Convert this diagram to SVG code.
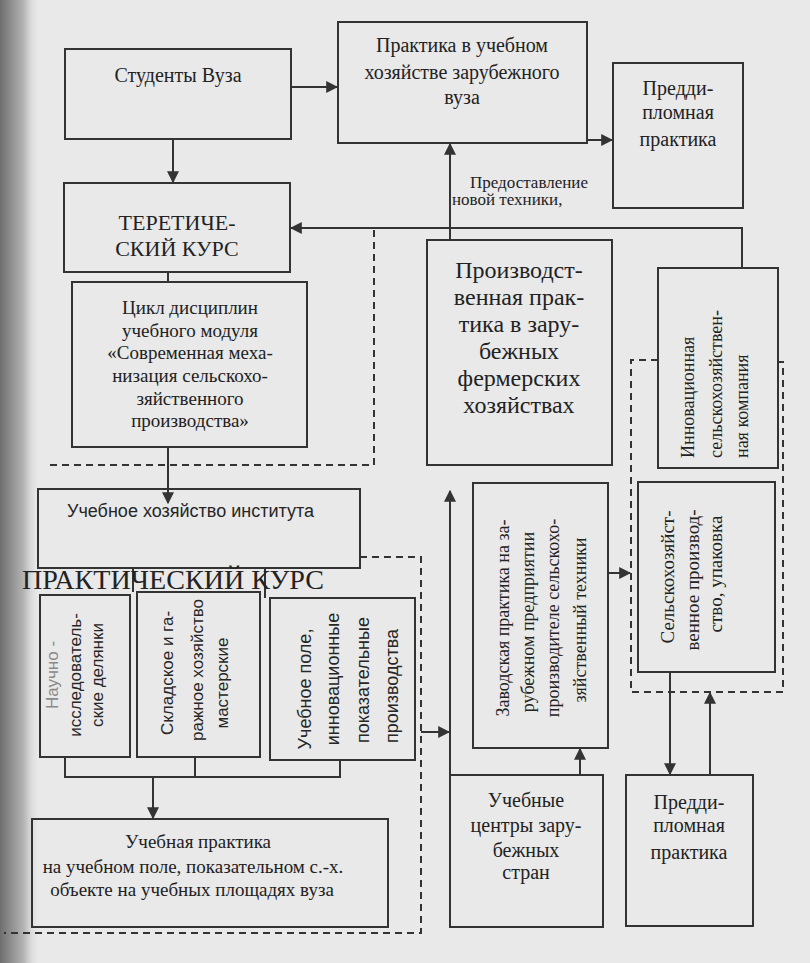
<svg xmlns="http://www.w3.org/2000/svg" width="810" height="963" viewBox="0 0 810 963">
<defs>
<linearGradient id="gutter" x1="0" y1="0" x2="1" y2="0">
<stop offset="0" stop-color="#6e6e6e"/>
<stop offset="0.6" stop-color="#b5b5b5"/>
<stop offset="1" stop-color="#e9e9e9" stop-opacity="0"/>
</linearGradient>
<marker id="arr" viewBox="0 0 10 10" refX="9" refY="5" markerWidth="12" markerHeight="12" markerUnits="userSpaceOnUse" orient="auto">
<path d="M0,0 L10,5 L0,10 z" fill="#333"/>
</marker>
</defs>
<style>
.box{fill:none;stroke:#333;stroke-width:2}
.ln{fill:none;stroke:#333;stroke-width:2}
.dash{fill:none;stroke:#333;stroke-width:2;stroke-dasharray:7 5}
.s{font-family:'Liberation Serif','DejaVu Serif','Noto Serif',Tinos,serif;fill:#222;text-anchor:middle}
.ss{font-family:'Liberation Sans',Arial,sans-serif;fill:#262626;text-anchor:middle}
.st{text-anchor:start}
</style>
<rect width="810" height="963" fill="#e9e9e9"/>
<rect width="40" height="963" fill="url(#gutter)"/>

<g id="connectors">
<line class="ln" x1="291" y1="87" x2="337" y2="87" marker-end="url(#arr)"/>
<line class="ln" x1="587" y1="140" x2="612" y2="140" marker-end="url(#arr)"/>
<line class="ln" x1="173" y1="139" x2="173" y2="182" marker-end="url(#arr)"/>
<line class="ln" x1="168" y1="272" x2="168" y2="282"/>
<path class="ln" d="M742,268 V228 H291" marker-end="url(#arr)"/>
<line class="ln" x1="450" y1="240" x2="450" y2="144" marker-end="url(#arr)"/>
<path class="dash" d="M374,230 V465 H45"/>
<line class="ln" x1="168" y1="447" x2="168" y2="503" marker-end="url(#arr)"/>
<path class="dash" d="M360,557 H421 V933 H4"/>
<line class="ln" x1="421" y1="732" x2="449" y2="732" marker-end="url(#arr)"/>
<line class="ln" x1="450" y1="775" x2="450" y2="491" marker-end="url(#arr)"/>
<line class="ln" x1="608" y1="573" x2="630" y2="573" marker-end="url(#arr)"/>
<line class="ln" x1="580" y1="775" x2="580" y2="749" marker-end="url(#arr)"/>
<line class="ln" x1="670" y1="672" x2="670" y2="774" marker-end="url(#arr)"/>
<line class="ln" x1="710" y1="775" x2="710" y2="693" marker-end="url(#arr)"/>
<path class="dash" d="M658,360 H631 V692 H783 V362 H778"/>
<line class="ln" x1="133" y1="568" x2="133" y2="592"/>
<line class="ln" x1="265" y1="568" x2="265" y2="598"/>
<path class="ln" d="M65,757 V777 H340 V760"/>
<line class="ln" x1="195" y1="757" x2="195" y2="777"/>
<line class="ln" x1="153" y1="777" x2="153" y2="818" marker-end="url(#arr)"/>
</g>

<g id="students">
<rect class="box" x="65" y="49" width="226" height="90"/>
<text class="s" x="178" y="82" font-size="20">Студенты Вуза</text>
</g>

<g id="practice-abroad">
<rect class="box" x="338" y="22" width="249" height="121"/>
<text class="s" x="462" y="52" font-size="20">Практика в учебном</text>
<text class="s" x="462" y="79" font-size="20">хозяйстве зарубежного</text>
<text class="s" x="462" y="104" font-size="20">вуза</text>
</g>

<g id="prediploma-1">
<rect class="box" x="613" y="63" width="130" height="145"/>
<text class="s" x="678" y="95" font-size="20">Предди-</text>
<text class="s" x="678" y="119" font-size="20">пломная</text>
<text class="s" x="678" y="146" font-size="20">практика</text>
</g>

<g id="new-tech-label">
<text class="s st" x="470" y="188" font-size="17">Предоставление</text>
<text class="s st" x="452" y="205" font-size="17">новой техники,</text>
</g>

<g id="theory">
<rect class="box" x="64" y="183" width="226" height="89"/>
<text class="s" x="177" y="230" font-size="22">ТЕРЕТИЧЕ-</text>
<text class="s" x="177" y="256" font-size="22">СКИЙ КУРС</text>
</g>

<g id="cycle">
<rect class="box" x="72" y="282" width="235" height="165"/>
<text class="s" x="190" y="314" font-size="19">Цикл дисциплин</text>
<text class="s" x="190" y="337" font-size="19">учебного модуля</text>
<text class="s" x="190" y="359" font-size="19">«Современная меха-</text>
<text class="s" x="190" y="382" font-size="19">низация  сельскохо-</text>
<text class="s" x="190" y="405" font-size="19">зяйственного</text>
<text class="s" x="190" y="427" font-size="19">производства»</text>
</g>

<g id="production">
<rect class="box" x="427" y="240" width="185" height="225"/>
<text class="s" x="519" y="278" font-size="24">Производст-</text>
<text class="s" x="519" y="305" font-size="24">венная прак-</text>
<text class="s" x="519" y="332" font-size="24">тика в  зару-</text>
<text class="s" x="519" y="359" font-size="24">бежных</text>
<text class="s" x="519" y="386" font-size="24">фермерских</text>
<text class="s" x="519" y="413" font-size="24">хозяйствах</text>
</g>

<g id="innovation">
<rect class="box" x="658" y="268" width="120" height="200"/>
<text class="s st" x="694" y="458" font-size="18" transform="rotate(-90 694 458)">Инновационная</text>
<text class="s st" x="722" y="458" font-size="18" transform="rotate(-90 722 458)">сельскохозяйствен-</text>
<text class="s st" x="748" y="458" font-size="18" transform="rotate(-90 748 458)">ная компания</text>
</g>

<g id="farm-institute">
<rect class="box" x="38" y="489" width="322" height="79"/>
<text class="ss st" x="67" y="517" font-size="18">Учебное хозяйство института</text>
</g>

<g id="practical-label">
<text class="s st" x="22" y="589" font-size="28" textLength="302" lengthAdjust="spacingAndGlyphs">ПРАКТИЧЕСКИЙ КУРС</text>
</g>

<g id="research-plots">
<rect class="box" x="40" y="595" width="90" height="162"/>
<text class="ss" x="58" y="675" font-size="17" style="fill:#8a8a8a" transform="rotate(-90 58 675)">Научно -</text>
<text class="ss" x="81" y="675" font-size="17" transform="rotate(-90 81 675)">исследователь-</text>
<text class="ss" x="103" y="675" font-size="17" transform="rotate(-90 103 675)">ские делянки</text>
</g>

<g id="garage">
<rect class="box" x="137" y="592" width="123" height="165"/>
<text class="ss" x="173" y="673" font-size="17" transform="rotate(-90 173 673)">Складское и га-</text>
<text class="ss" x="203" y="670" font-size="17" transform="rotate(-90 203 670)">ражное хозяйство</text>
<text class="ss" x="228" y="683" font-size="17" transform="rotate(-90 228 683)">мастерские</text>
</g>

<g id="training-field">
<rect class="box" x="270" y="598" width="145" height="162"/>
<text class="ss" x="311" y="689" font-size="18" transform="rotate(-90 311 689)">Учебное поле,</text>
<text class="ss" x="339" y="679" font-size="18" transform="rotate(-90 339 679)">инновационные</text>
<text class="ss" x="369" y="680" font-size="18" transform="rotate(-90 369 680)">показательные</text>
<text class="ss" x="398" y="686" font-size="18" transform="rotate(-90 398 686)">производства</text>
</g>

<g id="factory">
<rect class="box" x="473" y="483" width="135" height="265"/>
<text class="s" x="509" y="618" font-size="18" transform="rotate(-90 509 618)">Заводская практика  на за-</text>
<text class="s" x="534" y="622" font-size="18" transform="rotate(-90 534 622)">рубежном предприятии</text>
<text class="s" x="559" y="618" font-size="18" transform="rotate(-90 559 618)">производителе сельскохо-</text>
<text class="s" x="586" y="620" font-size="18" transform="rotate(-90 586 620)">зяйственный техники</text>
</g>

<g id="agri-production">
<rect class="box" x="638" y="482" width="137" height="190"/>
<text class="s" x="674" y="577" font-size="19" transform="rotate(-90 674 577)">Сельскохозяйст-</text>
<text class="s" x="699" y="580" font-size="19" transform="rotate(-90 699 580)">венное производ-</text>
<text class="s" x="722" y="574" font-size="19" transform="rotate(-90 722 574)">ство, упаковка</text>
</g>

<g id="training-practice">
<rect class="box" x="32" y="819" width="356" height="108"/>
<text class="s" x="198" y="848" font-size="19">Учебная  практика</text>
<text class="s" x="193" y="873" font-size="19">на учебном поле, показательном с.-х.</text>
<text class="s" x="192" y="896" font-size="19">объекте на учебных площадях вуза</text>
</g>

<g id="training-centers">
<rect class="box" x="450" y="775" width="153" height="152"/>
<text class="s" x="526" y="807" font-size="20">Учебные</text>
<text class="s" x="526" y="832" font-size="20">центры зару-</text>
<text class="s" x="526" y="857" font-size="20">бежных</text>
<text class="s" x="526" y="879" font-size="20">стран</text>
</g>

<g id="prediploma-2">
<rect class="box" x="626" y="775" width="127" height="151"/>
<text class="s" x="689" y="809" font-size="20">Предди-</text>
<text class="s" x="689" y="832" font-size="20">пломная</text>
<text class="s" x="689" y="859" font-size="20">практика</text>
</g>
</svg>
